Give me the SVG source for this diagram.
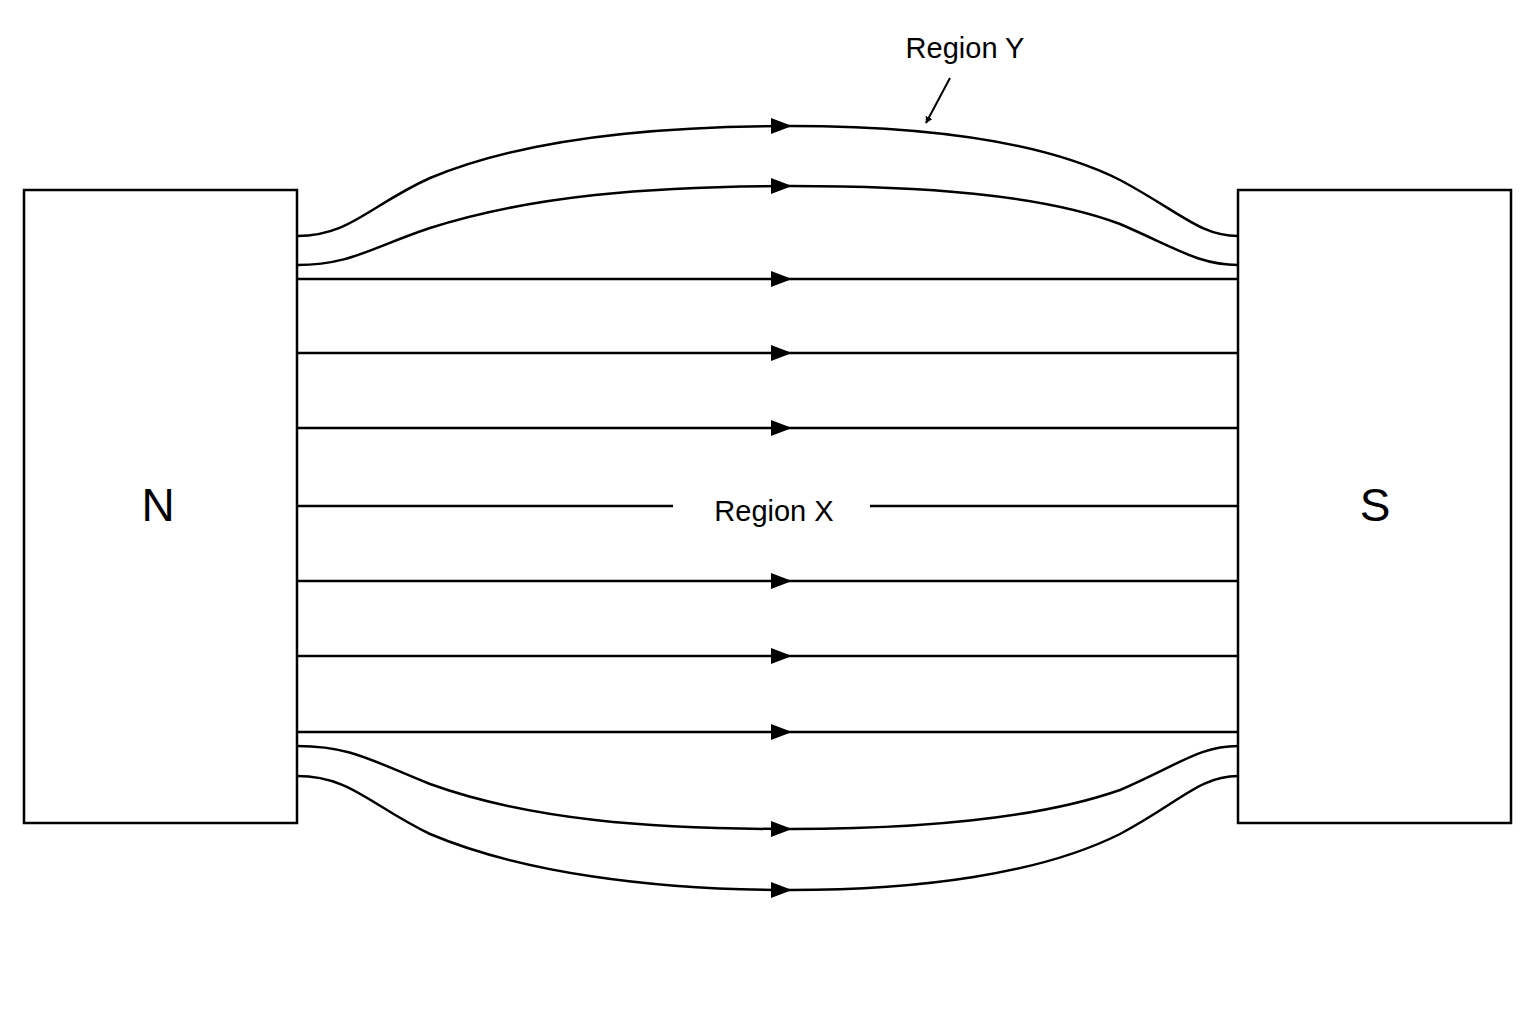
<svg xmlns="http://www.w3.org/2000/svg" width="1536" height="1024" viewBox="0 0 1536 1024">
<style>
.l{fill:none;stroke:#000;stroke-width:2.5}
.t{font-family:"Liberation Sans",Arial,sans-serif;fill:#000}
.h{fill:#000}
</style>
<defs>
<marker id="ar" viewBox="0 0 10 10" refX="9" refY="5" markerWidth="7" markerHeight="7" orient="auto" markerUnits="userSpaceOnUse"><path d="M0,0 L10,5 L0,10 z" fill="#000"/></marker>
<path id="hd" d="M-21,-8 L0,0 L-21,8 z"/>
</defs>
<rect width="1536" height="1024" fill="#fff"/>
<g id="N"><rect x="24" y="190" width="273" height="633" class="l"/><text x="158" y="521" font-size="46" text-anchor="middle" class="t">N</text></g>
<g id="S"><rect x="1238" y="190" width="273" height="633" class="l"/><text x="1375" y="521" font-size="46" text-anchor="middle" class="t">S</text></g>
<g id="connectors">
<path class="l" d="M297,236 C350,236 370,205 430,178 C520,140 650,126 790,126 C920,126 1040,140 1120,180 C1180,212 1200,236 1238,236"/>
<path class="l" d="M297,265 C350,265 370,248 430,228 C530,196 650,186 790,186 C920,186 1040,194 1120,224 C1180,250 1200,265 1238,265"/>
<path class="l" d="M297,746 C350,746 370,760 430,784 C530,820 650,829 790,829 C920,829 1040,818 1120,790 C1180,764 1200,746 1238,746"/>
<path class="l" d="M297,776 C350,776 370,805 430,834 C520,872 650,890 790,890 C920,890 1040,874 1120,834 C1180,802 1200,776 1238,776"/>
<path class="l" d="M297,279H1238M297,353H1238M297,428H1238M297,581H1238M297,656H1238M297,732H1238M297,506H673M870,506H1238"/>
<g class="h">
<use href="#hd" x="792" y="126"/><use href="#hd" x="792" y="186"/><use href="#hd" x="792" y="279"/><use href="#hd" x="792" y="353"/><use href="#hd" x="792" y="428"/><use href="#hd" x="792" y="581"/><use href="#hd" x="792" y="656"/><use href="#hd" x="792" y="732"/><use href="#hd" x="792" y="829"/><use href="#hd" x="792" y="890"/>
</g>
<line x1="950" y1="78" x2="926" y2="123" stroke="#000" stroke-width="2" marker-end="url(#ar)"/>
</g>
<g id="labels">
<text x="774" y="521" font-size="29" text-anchor="middle" class="t">Region X</text>
<text x="965" y="58" font-size="29" text-anchor="middle" class="t">Region Y</text>
</g>
</svg>
